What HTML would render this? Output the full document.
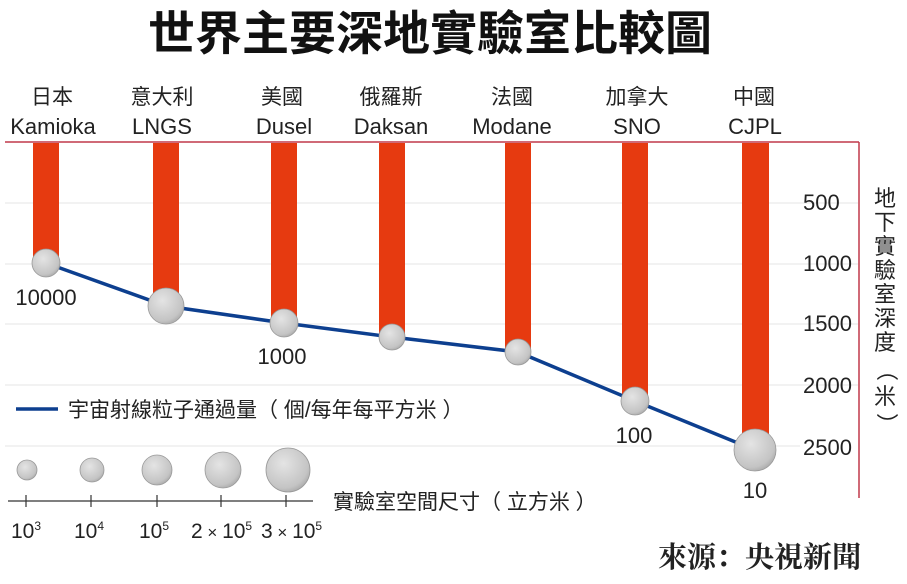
<!DOCTYPE html>
<html><head><meta charset="utf-8">
<style>
html,body{margin:0;padding:0;background:#fff;}
svg{display:block;}
text{font-family:"Liberation Sans","Noto Sans CJK TC",sans-serif;fill:#222;}
.n{font-size:22px;}
.c{font-size:21px;}
</style></head><body>
<svg width="907" height="584" viewBox="0 0 907 584" xmlns="http://www.w3.org/2000/svg">
<defs>
<radialGradient id="g" cx="0.4" cy="0.35" r="0.7">
<stop offset="0" stop-color="#e4e4e4"/><stop offset="0.8" stop-color="#c4c4c4"/><stop offset="1" stop-color="#a8a8a8"/>
</radialGradient>
</defs>
<text x="430" y="50" text-anchor="middle" style="font-size:47px;font-weight:bold;fill:#111;font-family:'Liberation Sans','Noto Sans CJK TC',sans-serif;">世界主要深地實驗室比較圖</text>
<g stroke="#eee" stroke-width="1.5">
<line x1="5" y1="203" x2="858" y2="203"/><line x1="5" y1="264" x2="858" y2="264"/>
<line x1="5" y1="324" x2="858" y2="324"/><line x1="5" y1="385" x2="858" y2="385"/>
<line x1="5" y1="446" x2="800" y2="446"/>
</g>
<line x1="5" y1="142" x2="859" y2="142" stroke="#c0394a" stroke-width="1.5"/>
<line x1="859" y1="142" x2="859" y2="498" stroke="#c0394a" stroke-width="1.5"/>
<g fill="#e63a10">
<rect x="33" y="143" width="26" height="120"/>
<rect x="153" y="143" width="26" height="163"/>
<rect x="271" y="143" width="26" height="180"/>
<rect x="379" y="143" width="26" height="194"/>
<rect x="505" y="143" width="26" height="209"/>
<rect x="622" y="143" width="26" height="258"/>
<rect x="742" y="143" width="27" height="307"/>
</g>
<polyline points="46,263 166,306 284,323 392,337 518,352 635,401 755,450" fill="none" stroke="#0d3f8f" stroke-width="3.5"/>
<g fill="url(#g)" stroke="#999" stroke-width="0.8">
<circle cx="46" cy="263" r="14"/><circle cx="166" cy="306" r="18"/>
<circle cx="284" cy="323" r="14"/><circle cx="392" cy="337" r="13"/>
<circle cx="518" cy="352" r="13"/><circle cx="635" cy="401" r="14"/>
<circle cx="755" cy="450" r="21"/>
</g>
<g class="c" text-anchor="middle">
<text x="52" y="104">日本</text><text x="162" y="104">意大利</text><text x="282" y="104">美國</text>
<text x="391" y="104">俄羅斯</text><text x="512" y="104">法國</text><text x="637" y="104">加拿大</text><text x="754" y="104">中國</text>
</g>
<g class="n" text-anchor="middle">
<text x="53" y="134">Kamioka</text><text x="162" y="134">LNGS</text><text x="284" y="134">Dusel</text>
<text x="391" y="134">Daksan</text><text x="512" y="134">Modane</text><text x="637" y="134">SNO</text><text x="755" y="134">CJPL</text>
<text x="46" y="305">10000</text><text x="282" y="364">1000</text><text x="634" y="443">100</text><text x="755" y="498">10</text>
</g>
<g class="n">
<text x="803" y="210">500</text><text x="803" y="271">1000</text><text x="803" y="331">1500</text>
<text x="803" y="393">2000</text><text x="803" y="455">2500</text>
</g>
<g style="font-size:22px" text-anchor="middle">
<text x="885" y="206">地</text><text x="885" y="230">下</text><text x="885" y="254">實</text><text x="885" y="278">驗</text>
<text x="885" y="302">室</text><text x="885" y="326">深</text><text x="885" y="350">度</text>
<text x="885" y="376" transform="rotate(90 885 370)">（</text><text x="885" y="404">米</text>
<text x="885" y="430" transform="rotate(90 885 424)">）</text>
</g>
<line x1="16" y1="409" x2="58" y2="409" stroke="#0d3f8f" stroke-width="3.5"/>
<text x="68" y="417" class="c">宇宙射線粒子通過量（ 個/每年每平方米 ）</text>
<g fill="url(#g)" stroke="#999" stroke-width="0.8">
<circle cx="27" cy="470" r="10"/><circle cx="92" cy="470" r="12"/><circle cx="157" cy="470" r="15"/>
<circle cx="223" cy="470" r="18"/><circle cx="288" cy="470" r="22"/>
</g>
<line x1="8" y1="501" x2="313" y2="501" stroke="#333" stroke-width="1.2"/>
<g stroke="#333" stroke-width="1.2">
<line x1="26" y1="495" x2="26" y2="507"/><line x1="91" y1="495" x2="91" y2="507"/>
<line x1="157" y1="495" x2="157" y2="507"/><line x1="221" y1="495" x2="221" y2="507"/>
<line x1="286" y1="495" x2="286" y2="507"/>
</g>
<g style="font-size:21px">
<text x="11" y="538">10<tspan dy="-8" style="font-size:12px">3</tspan></text>
<text x="74" y="538">10<tspan dy="-8" style="font-size:12px">4</tspan></text>
<text x="139" y="538">10<tspan dy="-8" style="font-size:12px">5</tspan></text>
<text x="191" y="538">2<tspan style="font-size:17px"> × </tspan>10<tspan dy="-8" style="font-size:12px">5</tspan></text>
<text x="261" y="538">3<tspan style="font-size:17px"> × </tspan>10<tspan dy="-8" style="font-size:12px">5</tspan></text>
</g>
<text x="333" y="509" class="c">實驗室空間尺寸（ 立方米 ）</text>
<text x="658" y="567" style="font-size:29px;font-weight:bold;font-family:'Liberation Serif','Noto Serif CJK SC',serif;fill:#222;">來源：央視新聞</text>
</svg>
</body></html>
